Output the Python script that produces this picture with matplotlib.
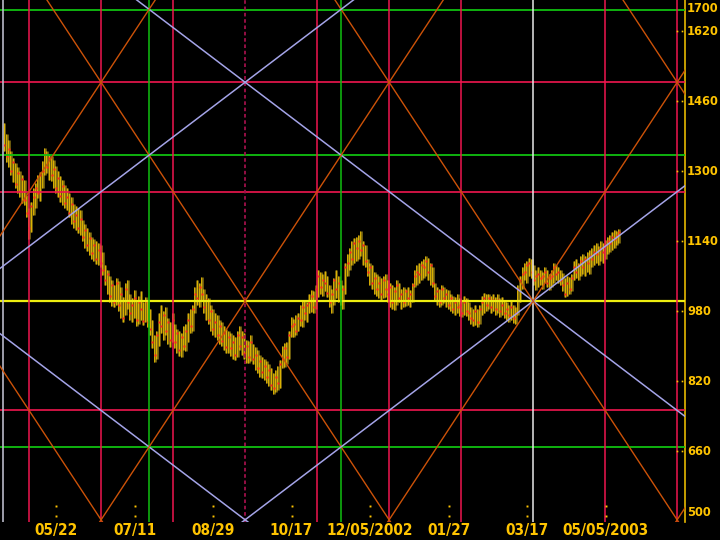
import matplotlib
matplotlib.use("Agg")
import matplotlib.pyplot as plt
import matplotlib.transforms as mtransforms
from matplotlib import font_manager as fm
import numpy as np

# daily bars (trading-day index 0..274): low, high, close
low = [1345, 1320, 1310, 1290, 1275, 1262, 1250, 1240, 1228, 1222,
       1195, 1145, 1160, 1200, 1215, 1238, 1232, 1262, 1290, 1295,
       1280, 1278, 1262, 1250, 1240, 1230, 1222, 1215, 1212, 1195,
       1180, 1170, 1165, 1158, 1155, 1140, 1125, 1118, 1108, 1100,
       1095, 1088, 1085, 1080, 1062, 1040, 1020, 1000, 992, 989,
       995, 980, 965, 955, 970, 985, 960, 955, 965, 945,
       950, 960, 948, 955, 943, 925, 895, 863, 870, 900,
       930, 915, 925, 905, 898, 910, 895, 885, 878, 875,
       890, 888, 910, 930, 935, 975, 995, 990, 1005, 975,
       960, 950, 935, 925, 921, 915, 905, 900, 890, 885,
       884, 878, 870, 868, 875, 890, 880, 870, 862, 861,
       865, 860, 845, 838, 830, 828, 822, 815, 808, 800,
       790, 795, 800, 805, 850, 852, 860, 870, 920, 921,
       925, 935, 945, 943, 960, 955, 975, 978, 975, 985,
       1012, 1020, 1015, 1025, 1012, 990, 975, 995, 1010, 1000,
       995, 985, 1020, 1060, 1075, 1085, 1090, 1095, 1100, 1105,
       1085, 1080, 1060, 1040, 1030, 1020, 1015, 1010, 1005, 1010,
       1012, 1000, 990, 985, 982, 995, 1000, 985, 989, 992,
       995, 990, 1000, 1035, 1040, 1045, 1050, 1055, 1060, 1050,
       1040, 1035, 1005, 995, 989, 995, 998, 990, 985, 980,
       975, 970, 975, 968, 966, 970, 968, 960, 950, 945,
       948, 943, 950, 970, 975, 980, 985, 975, 980, 970,
       975, 966, 970, 965, 960, 955, 960, 953, 950, 970,
       1000, 1030, 1050, 1045, 1060, 1055, 1040, 1028, 1035, 1040,
       1030, 1045, 1035, 1028, 1035, 1045, 1050, 1044, 1040, 1025,
       1012, 1015, 1020, 1025, 1050, 1055, 1051, 1060, 1065, 1060,
       1070, 1065, 1080, 1085, 1090, 1085, 1095, 1090, 1100, 1110,
       1115, 1119, 1125, 1130, 1135]
high = [1410, 1385, 1370, 1345, 1330, 1318, 1310, 1300, 1290, 1280,
        1245, 1215, 1230, 1262, 1272, 1290, 1298, 1322, 1352, 1345,
        1338, 1335, 1325, 1312, 1300, 1288, 1280, 1268, 1262, 1250,
        1240, 1225, 1220, 1215, 1210, 1188, 1180, 1170, 1160, 1150,
        1145, 1140, 1135, 1130, 1115, 1085, 1075, 1060, 1050, 1040,
        1055, 1048, 1035, 1012, 1045, 1050, 1020, 1010, 1028, 1005,
        1015, 1025, 1000, 1012, 1005, 985, 960, 925, 935, 975,
        994, 980, 990, 965, 955, 975, 950, 940, 935, 930,
        945, 950, 975, 985, 995, 1035, 1050, 1045, 1057, 1030,
        1020, 1010, 995, 985, 975, 970, 960, 955, 945, 940,
        935, 930, 925, 920, 935, 945, 935, 930, 915, 912,
        925, 905, 898, 890, 880, 875, 870, 865, 860, 850,
        838, 845, 855, 868, 900, 907, 910, 935, 966, 962,
        970, 975, 995, 1005, 1005, 1000, 1020, 1028, 1025, 1040,
        1074, 1070, 1065, 1072, 1060, 1040, 1030, 1055, 1074, 1060,
        1050, 1040, 1090, 1110, 1125, 1140, 1148, 1150, 1155, 1162,
        1140, 1130, 1100, 1090, 1085, 1070, 1065, 1060, 1055, 1060,
        1065, 1050, 1045, 1040, 1035, 1051, 1045, 1030, 1035, 1030,
        1035, 1028, 1045, 1075, 1085, 1090, 1095, 1100, 1105, 1102,
        1090, 1080, 1044, 1035, 1030, 1040, 1035, 1030, 1028, 1020,
        1015, 1012, 1020, 1010, 1005, 1015, 1010, 1000, 990, 985,
        995, 985, 995, 1015, 1021, 1018, 1020, 1015, 1020, 1012,
        1018, 1010, 1012, 1005, 1000, 995, 1002, 995, 990, 1040,
        1060, 1080, 1090, 1095, 1101, 1100, 1085, 1075, 1080, 1075,
        1070, 1080, 1075, 1065, 1075, 1090, 1085, 1080, 1075, 1067,
        1055, 1060, 1058, 1065, 1095, 1100, 1090, 1105, 1110, 1105,
        1115, 1119, 1125, 1130, 1135, 1128, 1140, 1135, 1142, 1150,
        1155, 1160, 1165, 1162, 1168]
close = [1360, 1335, 1350, 1300, 1320, 1270, 1295, 1255, 1282, 1235,
         1205, 1170, 1220, 1240, 1262, 1250, 1290, 1300, 1338, 1310,
         1330, 1290, 1305, 1262, 1285, 1242, 1265, 1228, 1240, 1205,
         1225, 1185, 1200, 1170, 1190, 1150, 1165, 1130, 1148, 1112,
         1130, 1098, 1120, 1090, 1075, 1050, 1065, 1015, 1040, 1000,
         1045, 995, 1020, 965, 1030, 1000, 975, 995, 1010, 960,
         1000, 985, 958, 1002, 955, 940, 910, 880, 925, 955,
         945, 970, 935, 955, 915, 960, 910, 930, 890, 920,
         900, 935, 960, 945, 985, 1020, 1010, 1035, 1020, 990,
         1005, 960, 980, 940, 955, 925, 945, 912, 930, 898,
         920, 895, 910, 880, 925, 900, 920, 885, 900, 875,
         910, 870, 880, 850, 865, 840, 855, 830, 845, 812,
         805, 830, 815, 860, 870, 895, 875, 925, 945, 950,
         935, 965, 960, 990, 975, 995, 1000, 1015, 990, 1030,
         1060, 1035, 1050, 1045, 1022, 1000, 1020, 1050, 1030, 1045,
         1005, 1030, 1080, 1090, 1115, 1100, 1135, 1125, 1140, 1120,
         1130, 1095, 1070, 1080, 1045, 1055, 1030, 1045, 1020, 1050,
         1030, 1020, 1035, 1000, 1025, 1040, 1010, 1020, 1000, 1025,
         1010, 1020, 1040, 1060, 1070, 1065, 1085, 1080, 1095, 1070,
         1085, 1045, 1015, 1025, 1000, 1030, 1010, 1020, 995, 1010,
         985, 1000, 990, 995, 975, 1000, 980, 975, 965, 960,
         980, 955, 985, 1000, 1010, 995, 1010, 990, 1005, 985,
         1005, 980, 995, 975, 985, 970, 990, 965, 975, 1030,
         1050, 1065, 1070, 1085, 1090, 1070, 1050, 1060, 1065, 1055,
         1060, 1070, 1045, 1055, 1060, 1080, 1065, 1070, 1050, 1040,
         1020, 1045, 1030, 1055, 1080, 1070, 1085, 1095, 1080, 1100,
         1090, 1105, 1100, 1115, 1110, 1120, 1125, 1115, 1130, 1140,
         1135, 1150, 1145, 1155, 1160]

# x axis labels at trading-day index
tick_idx = [23, 58, 93, 128, 163, 198, 233, 268]
tick_labels = ['05/22', '07/11', '08/29', '10/17', '12/05/2002', '01/27', '03/17', '05/05/2003']
ytick_vals = [1620, 1460, 1300, 1140, 980, 820, 660]

# square grid levels
center_idx = 235.7
center_price = 1003
red_prices = [753, 1253, 1503]
green_prices = [670, 1336, 1669]
red_idx = [11.0, 43.1, 75.2, 139.4, 171.5, 203.6, 267.8, 299.9]
green_idx = [64.3, 150.1]
dashed_idx = [107.3]
start_idx = -0.6
cycle_bars = 256.8
cycle_points = 1000

# pick a narrow font if one is installed
entries = fm.fontManager.ttflist
names = {f.name for f in entries}
font_kw = {'family': 'Liberation Sans', 'fontweight': 'bold', 'fontsize': 10}
if 'Liberation Sans Narrow' in names:
    font_kw = {'family': 'Liberation Sans Narrow', 'fontweight': 'bold', 'fontsize': 12}
elif any(f.name == 'DejaVu Sans' and 'condensed' in str(f.stretch) for f in entries):
    font_kw = {'family': 'DejaVu Sans', 'fontstretch': 'condensed',
               'fontweight': 'bold', 'fontsize': 11}

n = len(close)
x = np.arange(n)

fig = plt.figure(figsize=(7.2, 5.4), dpi=100, facecolor='black')
ax = fig.add_axes([0, 18 / 540, 685 / 720, 522 / 540], facecolor='black')
ax.set_xlim(-1.96, 303.4)
ax.set_ylim(498, 1691)

# price bars
ax.vlines(x, low, high, color='#8a7410', lw=1.8, zorder=2)
ax.vlines(x - 0.3, low, high, color='#f5c400', lw=0.55, zorder=3)
ax.plot(x, close, ls='none', marker='s', ms=1.6, mec='none', mfc='#ff2020', zorder=4)

# horizontal levels
for p in red_prices:
    ax.axhline(p, color='#f0164f', lw=1.2, zorder=5)
for p in green_prices:
    ax.axhline(p, color='#10c010', lw=1.3, zorder=5)
ax.axhline(center_price, color='#eeee10', lw=1.6, zorder=5)

# vertical levels
for i in red_idx:
    ax.axvline(i, color='#f0164f', lw=1.1, zorder=5)
for i in green_idx:
    ax.axvline(i, color='#10c010', lw=1.1, zorder=5)
for i in dashed_idx:
    ax.axvline(i, color='#a0104a', lw=1.3, ls=(0, (2, 1.5)), zorder=5)
ax.axvline(center_idx, color='#e8e8e8', lw=1.1, zorder=5)
ax.axvline(start_idx, color='#b8b8c8', lw=1.2, zorder=5)

# angle lines from the center
xs = np.array([-10, 320])
for k in range(-3, 4):
    base = center_price + cycle_points * k
    for sgn in (1, -1):
        slow = base + sgn * cycle_points / cycle_bars * (xs - center_idx)
        fast = base + sgn * 2 * cycle_points / cycle_bars * (xs - center_idx)
        ax.plot(xs, slow, color='#a4a4e8', lw=1.1, zorder=6)
        ax.plot(xs, fast, color='#cc5208', lw=1.0, zorder=6)

# axes styling
for s in ['top', 'left', 'bottom']:
    ax.spines[s].set_visible(False)
ax.spines['right'].set_color('#e6b800')
ax.spines['right'].set_linewidth(1.2)

lab_color = '#ffc400'
ax.set_xticks(tick_idx)
ax.set_xticklabels(tick_labels, **font_kw)
ax.tick_params(axis='x', length=0, pad=1, labelcolor=lab_color)

# price labels drawn as texts, shrunk until they fit right of the axis
tr_y = mtransforms.blended_transform_factory(ax.transAxes, ax.transData)
ax.set_yticks([])
ylabs = []
for v in ytick_vals:
    ylabs.append(ax.text(1.0 + 2 / 685, v, str(v), color=lab_color, ha='left',
                         va='center', transform=tr_y, clip_on=False, **font_kw))
ylabs.append(fig.text(687 / 720, 1 - 8 / 540, '1700', color=lab_color,
                      ha='left', va='center', **font_kw))
ylabs.append(fig.text(687 / 720, 1 - 512 / 540, '500', color=lab_color,
                      ha='left', va='center', **font_kw))

fig.canvas.draw()
renderer = fig.canvas.get_renderer()
widest = max(t.get_window_extent(renderer).width for t in ylabs)
if widest > 32:
    new_size = font_kw['fontsize'] * 32 / widest
    for t in ylabs:
        t.set_fontsize(new_size)

# small dotted tick marks
trx = mtransforms.blended_transform_factory(ax.transData, ax.transAxes)
for i in tick_idx:
    ax.plot([i, i], [0.012, 0.03], ls='none', marker='s', ms=1.4, mec='none',
            mfc=lab_color, transform=trx, zorder=7)
for v in ytick_vals:
    ax.plot([0.989, 0.995], [v, v], ls='none', marker='s', ms=1.2, mec='none',
            mfc=lab_color, transform=tr_y, clip_on=False, zorder=7)

fig.savefig('out.png', dpi=100, facecolor='black')
